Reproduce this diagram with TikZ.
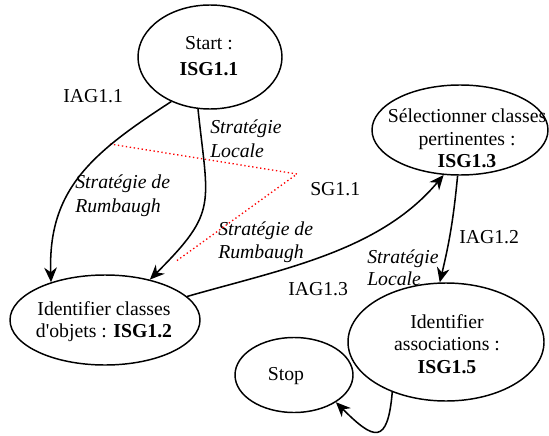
\documentclass[tikz,border=0pt]{standalone}
\usepackage{fontspec}
\setmainfont{Liberation Serif}[Ligatures=TeXOff]
\usetikzlibrary{shapes.geometric,arrows.meta}
\tikzset{
  state/.style={draw, ellipse, line width=1.1pt, inner sep=0pt},
  txt/.style={anchor=base, inner sep=0pt, font=\fontsize{14.8}{18}\selectfont},
  lbl/.style={anchor=base west, inner sep=0pt, font=\fontsize{14.8}{18}\selectfont},
  ilbl/.style={lbl, font=\fontsize{14.8}{18}\selectfont\itshape},
  flow/.style={line width=1.15pt, -{Stealth[length=11pt,width=9.5pt,inset=3.5pt]}},
  redline/.style={red, dotted, line width=1pt}
}
\begin{document}
\begin{tikzpicture}[x=0.75pt,y=-0.75pt]
\path[use as bounding box] (0,0) rectangle (549,435);
% ellipses
\node[state, minimum width=108pt, minimum height=78pt] (start) at (210,57) {};
\node[state, minimum width=132pt, minimum height=67.5pt] (sel) at (460,130) {};
\node[state, minimum width=142.5pt, minimum height=67.5pt] (ic) at (105,320) {};
\node[state, minimum width=147pt, minimum height=88.5pt] (ia) at (446,342) {};
\node[state, minimum width=88.5pt, minimum height=56.25pt] (stop) at (294,375) {};
% ellipse texts
\node[txt] (t1) at (209,50) {Start :};
\node[txt] (t2) at (209,75) {\bfseries ISG1.1};
\node[txt] (t3) at (467,122) {Sélectionner classes};
\node[txt] (t4) at (467,145) {pertinentes :};
\node[txt] (t5) at (467,167) {\bfseries ISG1.3};
\node[txt] (t6) at (104,315) {Identifier classes};
\node[txt] (t7) at (104,337) {d'objets : \textbf{ISG1.2}};
\node[txt] (t8) at (447,328) {Identifier};
\node[txt] (t9) at (447,350) {associations :};
\node[txt] (t10) at (447,373) {\bfseries ISG1.5};
\node[txt] (t11) at (286,380) {Stop};
% labels
\node[lbl] (l1) at (63,102) {IAG1.1};
\node[ilbl] (l2) at (210,133) {Stratégie};
\node[ilbl] (l3) at (210,157) {Locale};
\node[ilbl] (l4) at (75,188) {Stratégie de};
\node[ilbl] (l5) at (75,212) {Rumbaugh};
\node[lbl] (l6) at (310,195) {SG1.1};
\node[ilbl] (l7) at (218,235) {Stratégie de};
\node[ilbl] (l8) at (218,258) {Rumbaugh};
\node[lbl] (l9) at (459,243) {IAG1.2};
\node[lbl] (l10) at (288,295) {IAG1.3};
\node[ilbl] (l11) at (367,263) {Stratégie};
\node[ilbl] (l12) at (367,285) {Locale};
% red dotted
\coordinate (r1) at (110,144);
\coordinate (r2) at (297,174);
\coordinate (r3) at (175,262);
\draw[redline] (r1) -- (r2) -- (r3);
% connectors
\draw[flow] (start.229) to[out=213,in=92,looseness=1.1] (ic.145);
\draw[flow] (start.257) to[out=-84,in=45,looseness=1.4] (ic.42);
\draw[flow] (ic.16) to[out=16,in=230,looseness=0.9] (sel.250);
\draw[flow] (sel.267) to[bend left=4] (ia.96);
\draw[flow] (ia.223) to[out=-95,in=-45,looseness=2.4] (stop.-33);
\end{tikzpicture}
\end{document}
